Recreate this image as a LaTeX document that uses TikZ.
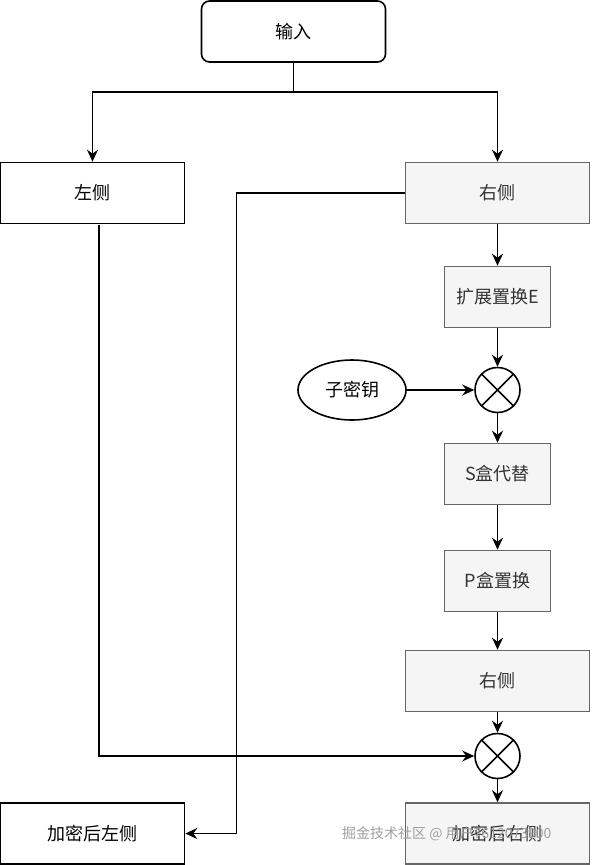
\documentclass[tikz,border=0pt]{standalone}
\usepackage{fontspec}
\setmainfont{Noto Sans CJK SC}
\usetikzlibrary{arrows.meta,shapes.geometric}
\definecolor{grayfill}{HTML}{F5F5F5}
\definecolor{grayline}{HTML}{666666}
\definecolor{graytext}{HTML}{333333}
\begin{document}
\begin{tikzpicture}[x=1pt,y=-1pt,
  every node/.style={font=\fontsize{18}{21}\selectfont, inner sep=0pt},
  plainbox/.style={draw=black, line width=1.6pt, fill=white, minimum width=184pt, minimum height=61pt},
  graywide/.style={draw=grayline, line width=1.6pt, fill=grayfill, text=graytext, minimum width=184pt, minimum height=61pt},
  graysmall/.style={draw=grayline, line width=1.6pt, fill=grayfill, text=graytext, minimum width=106pt, minimum height=61pt},
  xorop/.style={draw=black, line width=1.6pt, circle, minimum size=45pt, fill=white},
  arr/.style={draw=black, line width=1.6pt, -{Stealth[length=12pt,width=11pt,inset=4pt]}},
  ln/.style={draw=black, line width=1.6pt}
]
\useasboundingbox (0,0) rectangle (592,865);
\fill[white] (0,0) rectangle (592,865);

\node[plainbox, rounded corners=8pt] (in) at (293.5,31.5) {输入};
\node[plainbox] (L) at (92.5,193) {左侧};
\node[graywide] (R) at (497.5,193) {右侧};
\node[graysmall] (E) at (497.5,297) {扩展置换E};
\node[xorop] (x1) at (497.5,390) {};
\node[draw=black, line width=1.6pt, ellipse, minimum width=108pt, minimum height=60pt] (key) at (352,390) {子密钥};
\node[graysmall] (S) at (497.5,474) {S盒代替};
\node[graysmall] (P) at (497.5,581) {P盒置换};
\node[graywide] (R2) at (497.5,681) {右侧};
\node[xorop] (x2) at (497.5,756) {};
\node[plainbox] (LL) at (92.5,833.5) {加密后左侧};
\node[graywide] (RR) at (497.5,833.5) {加密后右侧};

% cross inside XOR circles
\foreach \c in {x1,x2}{
  \draw[ln] (\c.north east) -- (\c.south west);
  \draw[ln] (\c.north west) -- (\c.south east);
}

\coordinate (split) at (293.5,92);
\coordinate (loop) at (236.5,193);
\coordinate (lstem) at (99,224.5);

\draw[ln] (in.south) -- (split);
\draw[arr] (split) -| (L.north);
\draw[arr] (split) -| (R.north);
\draw[arr] (R.west) -- (loop) |- (LL.east);
\draw[arr] (lstem) |- (x2.west);
\draw[arr] (R) -- (E);
\draw[arr] (E) -- (x1);
\draw[arr] (key) -- (x1);
\draw[arr] (x1) -- (S);
\draw[arr] (S) -- (P);
\draw[arr] (P) -- (R2);
\draw[arr] (R2) -- (x2);
\draw[arr] (x2) -- (RR);

\node[anchor=west, text=gray!75, font=\fontsize{14}{16}\selectfont] (wm) at (342,834) {掘金技术社区 @ 用户7612073900};
\end{tikzpicture}
\end{document}
